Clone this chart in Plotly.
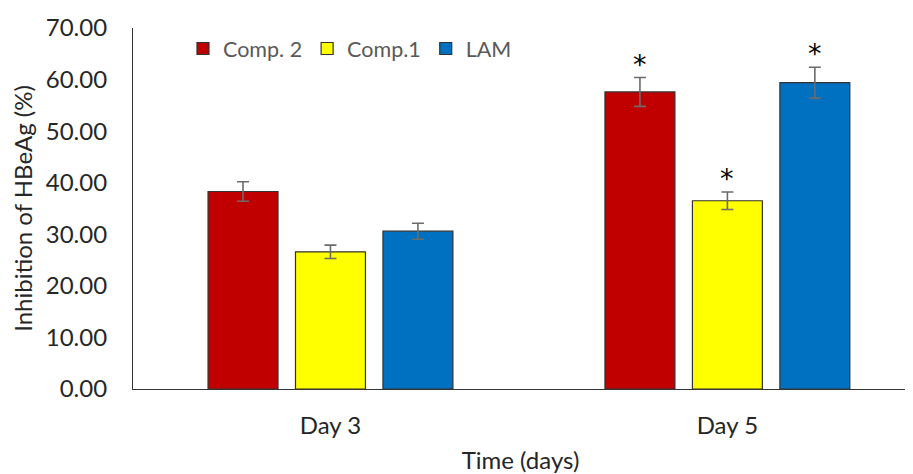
import plotly.graph_objects as go

categories = ["Day 3", "Day 5"]
series_names = ["Comp. 2", "Comp.1", "LAM"]
comp2_vals = [38.3, 57.6]
comp1_vals = [26.6, 36.5]
lam_vals = [30.6, 59.4]
comp2_err = [1.9, 2.8]
comp1_err = [1.3, 1.7]
lam_err = [1.55, 3.0]
significant = [[False, True], [False, True], [False, True]]
y_ticks = [0, 10, 20, 30, 40, 50, 60, 70]

colors = ["#C00000", "#FFFF00", "#0070C0"]
values = [comp2_vals, comp1_vals, lam_vals]
errors = [comp2_err, comp1_err, lam_err]

fig = go.Figure()
for name, vals, errs, col in zip(series_names, values, errors, colors):
    fig.add_trace(go.Bar(
        name=name, x=categories, y=vals,
        marker=dict(color=col, line=dict(color="#333333", width=1.2)),
        error_y=dict(type="data", array=errs, visible=True,
                     color="#6b6b6b", thickness=1.6, width=6),
    ))

# significance stars
offsets = [-1, 0, 1]
for i, (vals, errs) in enumerate(zip(values, errors)):
    for j, cat in enumerate(categories):
        if significant[i][j]:
            fig.add_annotation(
                x=j + offsets[i] * 0.2205, y=vals[j] + errs[j] + 2.6,
                xref="x", yref="y", text="*", showarrow=False,
                font=dict(family="DejaVu Sans", size=27, color="#000000"),
                yanchor="middle",
            )

fig.update_layout(
    width=905, height=466,
    margin=dict(l=125, r=5, t=20, b=85),
    paper_bgcolor="white", plot_bgcolor="white",
    barmode="group", bargap=0.339, bargroupgap=0.2,
    font=dict(family="Lato", color="#262626"),
    legend=dict(orientation="h", x=0.0645, y=1.0, xanchor="left", yanchor="top",
                font=dict(family="Lato", size=21.5, color="#595959"),
                bgcolor="rgba(0,0,0,0)", itemwidth=30, tracegroupgap=0),
    xaxis=dict(type="category", range=[-0.4975, 1.455], automargin=False,
               showline=True, linecolor="#333333", linewidth=1.2,
               ticks="", ticklabelstandoff=15,
               tickfont=dict(family="Lato", size=24, color="#262626"),
               title=dict(text="Time (days)", font=dict(family="Lato", size=24, color="#262626"), standoff=20)),
    yaxis=dict(range=[0, 70], tickvals=y_ticks, automargin=False,
               ticktext=[f"{v:.2f}" for v in y_ticks],
               showline=True, linecolor="#333333", linewidth=1.2,
               showgrid=False, zeroline=False, ticks="", ticklabelstandoff=20,
               tickfont=dict(family="Lato", size=24, color="#262626"),
               title=dict(text="Inhibition of HBeAg (%)", font=dict(family="Lato", size=24, color="#262626"), standoff=8)),
)

fig.write_html("out.html")
